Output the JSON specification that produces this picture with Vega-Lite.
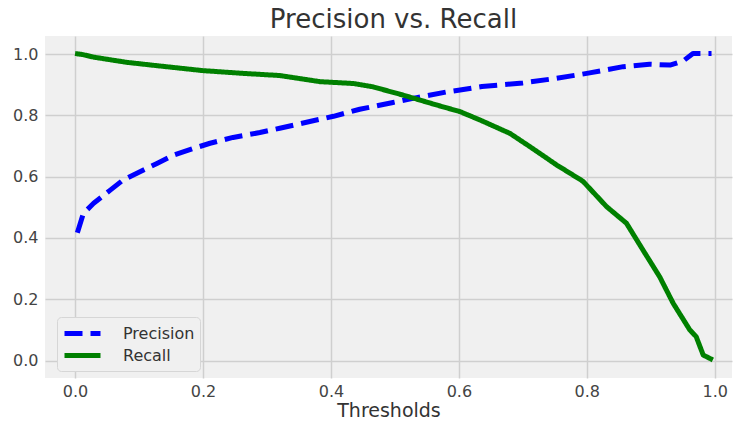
{
  "$schema": "https://vega.github.io/schema/vega-lite/v6.json",
  "autosize": "none",
  "width": 687,
  "height": 342,
  "padding": {"left": 45, "top": 36, "right": 6, "bottom": 43},
  "background": "#ffffff",
  "config": {
    "view": {"fill": "#f0f0f0", "stroke": null},
    "font": "DejaVu Sans",
    "axis": {
      "domain": false,
      "ticks": false,
      "gridColor": "#cfcfcf",
      "gridWidth": 1.5,
      "labelFont": "DejaVu Sans",
      "labelFontSize": 16,
      "labelColor": "#444444",
      "titleFont": "DejaVu Sans",
      "titleFontWeight": "normal",
      "titleColor": "#333333"
    }
  },
  "title": {
    "text": "Precision vs. Recall",
    "font": "DejaVu Sans",
    "fontSize": 26,
    "fontWeight": "normal",
    "color": "#333333",
    "baseline": "bottom",
    "offset": 2,
    "dx": 5,
    "dy": 25
  },
  "data": {
    "values": [
      {"series": "Precision", "t": 0.0036, "v": 0.417},
      {"series": "Precision", "t": 0.013, "v": 0.48},
      {"series": "Precision", "t": 0.029, "v": 0.513},
      {"series": "Precision", "t": 0.055, "v": 0.556},
      {"series": "Precision", "t": 0.075, "v": 0.589},
      {"series": "Precision", "t": 0.107, "v": 0.622},
      {"series": "Precision", "t": 0.128, "v": 0.643},
      {"series": "Precision", "t": 0.154, "v": 0.67},
      {"series": "Precision", "t": 0.185, "v": 0.692},
      {"series": "Precision", "t": 0.211, "v": 0.709},
      {"series": "Precision", "t": 0.247, "v": 0.728},
      {"series": "Precision", "t": 0.289, "v": 0.744},
      {"series": "Precision", "t": 0.32, "v": 0.758},
      {"series": "Precision", "t": 0.367, "v": 0.78},
      {"series": "Precision", "t": 0.404, "v": 0.797},
      {"series": "Precision", "t": 0.445, "v": 0.82},
      {"series": "Precision", "t": 0.497, "v": 0.842},
      {"series": "Precision", "t": 0.534, "v": 0.858},
      {"series": "Precision", "t": 0.58, "v": 0.876},
      {"series": "Precision", "t": 0.636, "v": 0.894},
      {"series": "Precision", "t": 0.70, "v": 0.906},
      {"series": "Precision", "t": 0.753, "v": 0.921},
      {"series": "Precision", "t": 0.80, "v": 0.937},
      {"series": "Precision", "t": 0.857, "v": 0.959},
      {"series": "Precision", "t": 0.898, "v": 0.967},
      {"series": "Precision", "t": 0.93, "v": 0.964},
      {"series": "Precision", "t": 0.951, "v": 0.978},
      {"series": "Precision", "t": 0.966, "v": 1.002},
      {"series": "Precision", "t": 0.995, "v": 1.002},
      {"series": "Recall", "t": 0.0, "v": 1.002},
      {"series": "Recall", "t": 0.013, "v": 0.998},
      {"series": "Recall", "t": 0.029, "v": 0.99},
      {"series": "Recall", "t": 0.081, "v": 0.973},
      {"series": "Recall", "t": 0.133, "v": 0.961},
      {"series": "Recall", "t": 0.2, "v": 0.946},
      {"series": "Recall", "t": 0.263, "v": 0.937},
      {"series": "Recall", "t": 0.32, "v": 0.93},
      {"series": "Recall", "t": 0.383, "v": 0.91},
      {"series": "Recall", "t": 0.435, "v": 0.904},
      {"series": "Recall", "t": 0.466, "v": 0.893},
      {"series": "Recall", "t": 0.513, "v": 0.866},
      {"series": "Recall", "t": 0.565, "v": 0.834},
      {"series": "Recall", "t": 0.602, "v": 0.812},
      {"series": "Recall", "t": 0.633, "v": 0.785},
      {"series": "Recall", "t": 0.68, "v": 0.741},
      {"series": "Recall", "t": 0.711, "v": 0.698},
      {"series": "Recall", "t": 0.753, "v": 0.638},
      {"series": "Recall", "t": 0.794, "v": 0.585},
      {"series": "Recall", "t": 0.831, "v": 0.502},
      {"series": "Recall", "t": 0.862, "v": 0.448},
      {"series": "Recall", "t": 0.888, "v": 0.36},
      {"series": "Recall", "t": 0.914, "v": 0.273},
      {"series": "Recall", "t": 0.935, "v": 0.187},
      {"series": "Recall", "t": 0.961, "v": 0.10},
      {"series": "Recall", "t": 0.971, "v": 0.078},
      {"series": "Recall", "t": 0.982, "v": 0.018},
      {"series": "Recall", "t": 0.997, "v": 0.002}
    ]
  },
  "mark": {"type": "line", "strokeWidth": 5, "strokeCap": "butt", "strokeJoin": "round"},
  "encoding": {
    "x": {
      "field": "t",
      "type": "quantitative",
      "scale": {"domain": [-0.047, 1.027], "nice": false, "zero": false},
      "axis": {
        "title": "Thresholds",
        "titleFontSize": 19,
        "titlePadding": 2,
        "values": [0, 0.2, 0.4, 0.6, 0.8, 1.0],
        "format": ".1f",
        "labelPadding": 5
      }
    },
    "y": {
      "field": "v",
      "type": "quantitative",
      "scale": {"domain": [-0.057, 1.059], "nice": false, "zero": false},
      "axis": {
        "title": null,
        "values": [0, 0.2, 0.4, 0.6, 0.8, 1.0],
        "format": ".1f",
        "labelPadding": 7
      }
    },
    "color": {
      "field": "series",
      "type": "nominal",
      "scale": {"domain": ["Precision", "Recall"], "range": ["#0000ff", "#008000"]},
      "legend": {
        "title": null,
        "orient": "none",
        "legendX": 12,
        "legendY": 281,
        "padding": 5,
        "fillColor": "#f0f0f0",
        "strokeColor": "#d6d6d6",
        "cornerRadius": 4,
        "symbolType": "M-1,0H3",
        "symbolSize": 324,
        "symbolStrokeWidth": 5,
        "labelFont": "DejaVu Sans",
        "labelFontSize": 16,
        "labelColor": "#333333",
        "labelOffset": 38,
        "rowPadding": 0
      }
    },
    "strokeDash": {
      "field": "series",
      "type": "nominal",
      "scale": {"domain": ["Precision", "Recall"], "range": [[18, 8], [1, 0]]},
      "legend": null
    }
  }
}
